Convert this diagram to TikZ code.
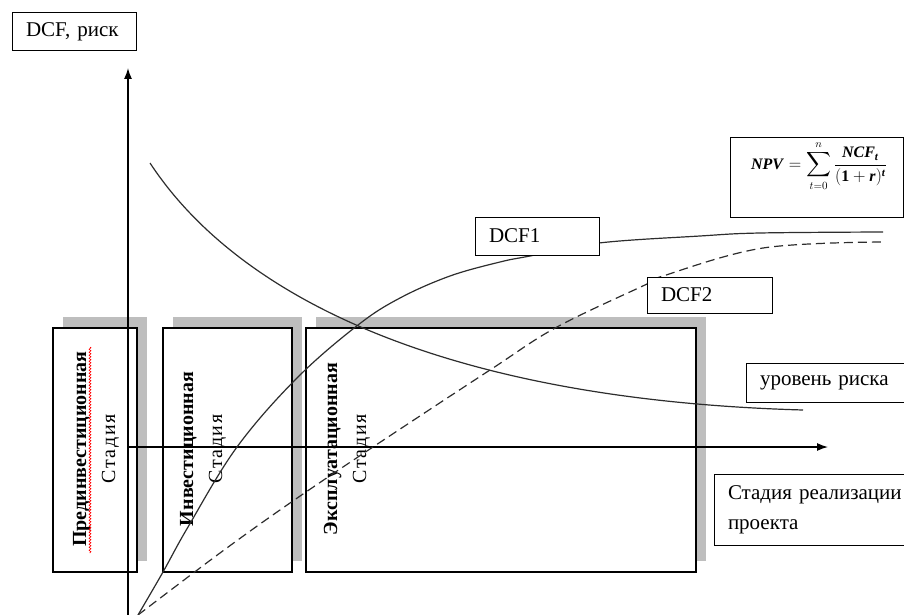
\documentclass[tikz,border=0pt]{standalone}
\usepackage{amsmath}
\usepackage{fontspec}
\setmainfont{Liberation Serif}
\usetikzlibrary{arrows.meta,shadows,decorations.pathmorphing}
\definecolor{shadowgray}{RGB}{190,190,190}
\definecolor{linegray}{RGB}{45,45,45}
\newcommand{\bi}[1]{\textbf{\textit{#1}}}
\newcommand{\npvformula}{$\displaystyle \bi{NPV}=\sum_{t=0}^{n}\frac{\bi{NCF}_{\bi{t}}}{(\mathbf{1}+\bi{r})^{\bi{t}}}$}
\newcommand{\stadia}{{\addfontfeatures{LetterSpace=8}Стадия}}
\begin{document}
\begin{tikzpicture}[x=1pt,y=-1pt,
  lab/.style={draw=black, fill=white, line width=1pt, inner xsep=14pt, inner ysep=0pt,
    align=left, font=\fontsize{21}{30}\selectfont},
  stagebox/.style={draw=black, fill=white, line width=1.2pt,
    drop shadow={shadow xshift=10pt, shadow yshift=11pt, fill=shadowgray, opacity=1}},
  stagetext/.style={rotate=90, align=center, inner sep=0pt, font=\fontsize{20}{29}\selectfont},
  axis/.style={line width=1.3pt, black, -{Latex[length=11pt,width=8pt]}},
  curve/.style={line width=1.2pt, linegray},
  formula/.style={inner sep=0pt, font=\fontsize{16}{18}\selectfont}
]
\useasboundingbox (0,0) rectangle (904,615);

% stage boxes
\node[stagebox, minimum width=84pt, minimum height=244pt] (s1) at (95,450) {};
\node[stagebox, minimum width=129pt, minimum height=244pt] (s2) at (227.5,450) {};
\node[stagebox, minimum width=390pt, minimum height=244pt] (s3) at (501,450) {};

\node[stagetext] (t1) at (96,449) {\textbf{Прединвестиционная}\\\stadia};
\node[stagetext] (t2) at (203,449) {\textbf{Инвестиционная}\\\stadia};
\node[stagetext] (t3) at (347,449) {\textbf{Эксплуатационная}\\\stadia};
\draw[red, line width=0.6pt, decorate, decoration={zigzag, amplitude=1pt, segment length=3pt}] (90,347) -- (90,553);

% axes
\coordinate (ybot) at (128,615);
\coordinate (ytop) at (128,68);
\coordinate (xorg) at (128,447);
\coordinate (xend) at (828,447);
\draw[axis] (ybot) -- (ytop);
\draw[axis] (xorg) -- (xend);

% risk curve
\coordinate (r0) at (150,163);
\coordinate (r1) at (803,410);
\draw[curve] (r0) .. controls (240,300) and (450,400) .. (r1);

% DCF1
\draw[curve] plot[smooth, tension=0.6] coordinates {(138,615) (163,572) (188,527) (237,447) (297,378) (358,325) (400,298) (450,276) (500,262) (530,256) (599,243) (700,236) (760,233) (883,232)};

% DCF2
\draw[curve, dash pattern=on 9pt off 5pt] plot[smooth, tension=0.6] coordinates {(138,615) (220,553) (290,503) (373,447) (490,370) (557,327) (647,284) (663,276) (763,248) (883,242)};

% labels
\node[lab, text width=96pt, minimum height=38pt] (dcfrisk) at (74,32) {DCF, риск};
\node[lab, text width=96pt, minimum height=38pt] (dcf1) at (537,236) {DCF1};
\node[lab, text width=97pt, minimum height=36pt] (dcf2) at (709.5,295) {DCF2};
\node[lab, text width=142pt, minimum height=39pt] (risk) at (831,382.5) {уровень риска};
\node[lab, text width=186pt, minimum height=71pt] (stage) at (821,509.5) {Стадия реализации\\проекта};
\node[draw=black, fill=white, line width=1pt, minimum width=173pt, minimum height=80pt] (npvbox) at (816.5,177) {};
\node[formula] (npvtext) at (819,166) {\npvformula};
\end{tikzpicture}
\end{document}
